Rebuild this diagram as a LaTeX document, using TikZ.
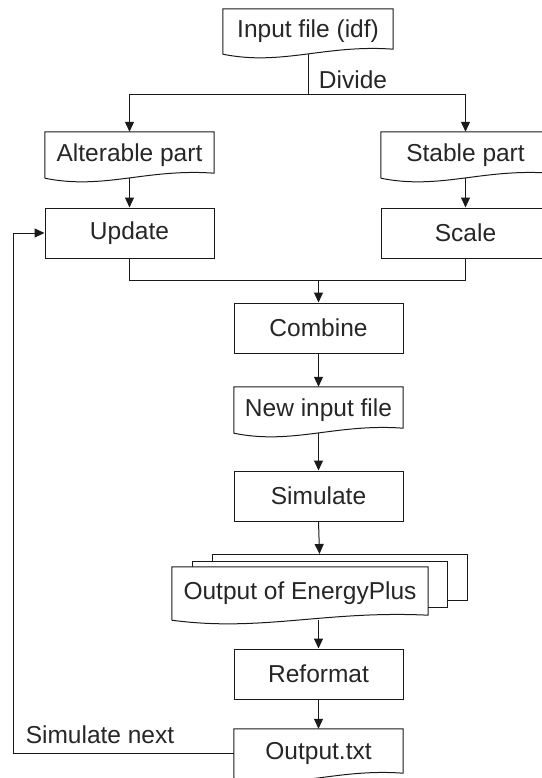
\documentclass[tikz,border=0pt]{standalone}
\usepackage{fontspec}
\setmainfont{Liberation Sans}
\usetikzlibrary{calc,arrows.meta}
\definecolor{txt}{HTML}{262626}
\definecolor{ln}{HTML}{1A1A1A}
\tikzset{
  lineS/.style={draw=ln, line width=1pt},
  box/.style={lineS, rectangle, minimum width=169pt, minimum height=50pt, inner sep=0pt, text=txt, font=\fontsize{24.5}{28}\selectfont},
  docbox/.style={rectangle, draw=none, minimum width=169pt, minimum height=46pt, inner sep=0pt, text=txt, font=\fontsize{24.5}{28}\selectfont},
  lbl/.style={text=txt, font=\fontsize{24.5}{28}\selectfont, inner sep=0pt},
  arr/.style={lineS, -{Triangle[length=10pt,width=9pt]}},
  conn/.style={lineS}
}
\newcommand\docshape[1]{%
  \path (#1.south west) coordinate (dA) (#1.south east) coordinate (dB);
  \draw[lineS] (#1.south west) -- (#1.north west) -- (#1.north east) -- ($(#1.south east)+(0,-5)$)
    .. controls ($(dA)!0.6!(dB)+(0,-10)$) and ($(dA)!0.35!(dB)+(0,12)$) .. (#1.south west);}
\begin{document}
\begin{tikzpicture}[x=1pt,y=-1pt]
\useasboundingbox (0,0) rectangle (541,778);
% nodes
\node[docbox, minimum width=170pt, minimum height=45pt] (inp) at (308,31.5) {Input file (idf)};
\node[docbox] (alt) at (129.5,155) {Alterable part};
\node[docbox] (stab) at (465.5,155) {Stable part};
\node[box] (upd) at (129.5,233) {Update};
\node[box] (scl) at (465.5,233) {Scale};
\node[box] (comb) at (318.5,328) {Combine};
\node[docbox] (newin) at (318.5,410) {New input file};
\node[box] (sim) at (318.5,496) {Simulate};
% multi-document back pages
\coordinate (p3nw) at (212,554); \coordinate (p3ne) at (467,554); \coordinate (p3se) at (467,600); \coordinate (p3sw) at (447,600);
\coordinate (p2nw) at (192,561); \coordinate (p2ne) at (447,561); \coordinate (p2se) at (447,607); \coordinate (p2sw) at (428,607);
\draw[lineS] (p3nw |- p2nw) -- (p3nw) -- (p3ne) -- (p3se) -- (p3sw);
\draw[lineS] (p2nw |- 0,567) -- (p2nw) -- (p2ne) -- (p2se) -- (p2sw);
\node[docbox, minimum width=256pt, minimum height=53pt] (ep) at (300,593.5) {Output of EnergyPlus};
\coordinate (epTop) at (319.5,554);
\node[box] (ref) at (318.5,674) {Reformat};
\node[docbox, minimum height=49pt] (out) at (318.5,753.5) {Output.txt};
% document outlines
\docshape{inp}
\docshape{alt}
\docshape{stab}
\docshape{newin}
\docshape{ep}
\docshape{out}
% labels
\node[lbl] (divide) at (353,80) {Divide};
\node[lbl] (simnext) at (100,735) {Simulate next};
% connectors
\coordinate (split) at (308,95);
\coordinate (join) at (318.5,280);
\coordinate (loopC) at (13,233);
\draw[conn] (inp.south) -- (split);
\draw[arr] (split) -| (alt.north);
\draw[arr] (split) -| (stab.north);
\draw[arr] (alt.south) -- (upd.north);
\draw[arr] (stab.south) -- (scl.north);
\draw[conn] (upd.south) |- (join);
\draw[conn] (scl.south) |- (join);
\draw[arr] (join) -- (comb.north);
\draw[arr] (comb.south) -- (newin.north);
\draw[arr] (newin.south) -- (sim.north);
\draw[arr] (sim.south) -- (epTop);
\draw[arr] (ref.north |- ep.south) -- (ref.north);
\draw[arr] (ref.south) -- (out.north);
\draw[arr] (out.west) -| (loopC) -- (upd.west);
\end{tikzpicture}
\end{document}
